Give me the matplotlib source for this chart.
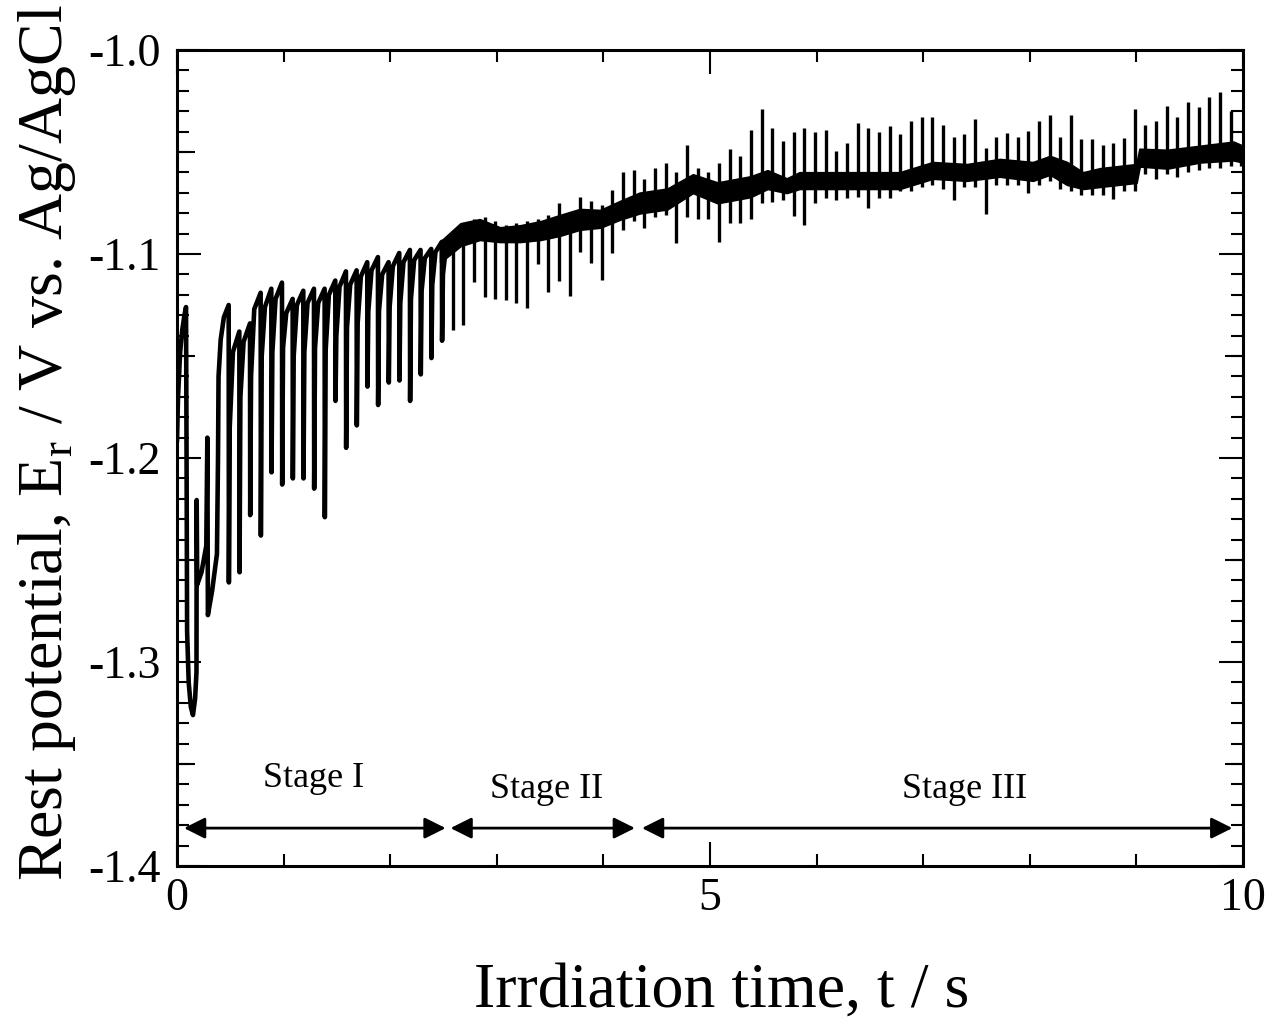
import numpy as np
import matplotlib
matplotlib.use("Agg")
import matplotlib.pyplot as plt

plt.rcParams['font.family'] = ['Liberation Serif', 'DejaVu Serif']
plt.rcParams['mathtext.fontset'] = 'custom'
plt.rcParams['mathtext.rm'] = 'Liberation Serif'
plt.rcParams['axes.unicode_minus'] = False

# ---------------- data ----------------
# laser pulse times (10 Hz pulses)
pulse_t = np.round(0.085 + 0.1 * np.arange(100), 3)

# initial transient before regular sawtooth (t < 0.485 s)
init_t = [0.000, 0.010, 0.030, 0.050, 0.070, 0.085, 0.090, 0.095, 0.110, 0.130,
          0.150, 0.170, 0.183, 0.185, 0.190, 0.230, 0.275, 0.285, 0.290, 0.330,
          0.375, 0.385, 0.390, 0.410, 0.440, 0.485]
init_E = [-1.192, -1.170, -1.148, -1.137, -1.130, -1.126, -1.200, -1.285, -1.310, -1.322,
          -1.326, -1.318, -1.305, -1.2206, -1.262, -1.256, -1.243, -1.190, -1.277, -1.265,
          -1.247, -1.200, -1.160, -1.142, -1.131, -1.125]

# Stage I sawtooth, pulses k = 4 ... 24
peak_I = [-1.125, -1.138, -1.134, -1.119, -1.117, -1.114, -1.122, -1.118, -1.117, -1.117,
          -1.113, -1.1085, -1.108, -1.104, -1.1015, -1.104, -1.0995, -1.098, -1.098, -1.0975,
          -1.094]
tip_I = [-1.261, -1.256, -1.228, -1.238, -1.207, -1.213, -1.210, -1.210, -1.215, -1.229,
         -1.172, -1.195, -1.184, -1.165, -1.174, -1.163, -1.162, -1.172, -1.159, -1.151,
         -1.1425]
dip_I = [-1.185, -1.170, -1.160, -1.150, -1.148, -1.146, -1.150, -1.148, -1.146, -1.147,
         -1.140, -1.136, -1.134, -1.128, -1.128, -1.126, -1.124, -1.122, -1.118, -1.115,
         -1.110]
knee_I = [-1.148, -1.143, -1.127, -1.126, -1.122, -1.129, -1.125, -1.124, -1.124, -1.120,
          -1.116, -1.115, -1.111, -1.108, -1.110, -1.106, -1.104, -1.103, -1.102, -1.099,
          -1.096]

# noisy band (Stages II and III)
band_t = [2.47, 2.66, 2.84, 3.03, 3.22, 3.41, 3.59, 3.78, 3.97, 4.16, 4.34, 4.60, 4.84,
          5.07, 5.38, 5.54, 5.72, 5.84, 6.15, 6.47, 6.78, 7.09, 7.41, 7.72, 8.03, 8.19,
          8.35, 8.50, 8.66, 9.00, 9.03, 9.29, 9.60, 9.91, 10.0]
band_top = [-1.094, -1.085, -1.083, -1.087, -1.086, -1.084, -1.081, -1.078, -1.0785, -1.074,
            -1.070, -1.068, -1.061, -1.065, -1.062, -1.059, -1.063, -1.060, -1.060, -1.060,
            -1.060, -1.055, -1.056, -1.0535, -1.055, -1.052, -1.055, -1.060, -1.058, -1.056,
            -1.0485, -1.049, -1.047, -1.045, -1.047]
band_bot = [-1.104, -1.096, -1.093, -1.094, -1.094, -1.093, -1.091, -1.088, -1.087, -1.083,
            -1.080, -1.078, -1.070, -1.075, -1.072, -1.068, -1.070, -1.068, -1.068, -1.068,
            -1.068, -1.063, -1.064, -1.062, -1.064, -1.061, -1.066, -1.068, -1.067, -1.065,
            -1.057, -1.058, -1.055, -1.054, -1.055]

# spike extents for pulses k = 25 ... 99
spike_lo = [-1.137, -1.135, -1.1137, -1.121, -1.122, -1.1225, -1.124, -1.1265, -1.105, -1.1186,
            -1.113, -1.1206, -1.099, -1.1046, -1.1127, -1.0997, -1.088, -1.084, -1.087, -1.082,
            -1.081, -1.0946, -1.082, -1.083, -1.083, -1.094, -1.085, -1.085, -1.083, -1.075,
            -1.0745, -1.0735, -1.0814, -1.086, -1.075, -1.0727, -1.0735, -1.0727, -1.072, -1.0775,
            -1.0725, -1.0725, -1.069, -1.069, -1.067, -1.066, -1.068, -1.0735, -1.067, -1.067,
            -1.0804, -1.066, -1.066, -1.066, -1.070, -1.066, -1.064, -1.068, -1.069, -1.071,
            -1.071, -1.071, -1.073, -1.069, -1.069, -1.061, -1.063, -1.061, -1.062, -1.060,
            -1.059, -1.058, -1.058, -1.057, -1.057]
spike_hi = [-1.090, -1.085, -1.083, -1.082, -1.084, -1.086, -1.085, -1.084, -1.083, -1.081,
            -1.075, -1.080, -1.072, -1.074, -1.076, -1.0686, -1.060, -1.059, -1.063, -1.058,
            -1.0555, -1.060, -1.0466, -1.058, -1.060, -1.0555, -1.0485, -1.052, -1.039, -1.029,
            -1.038, -1.0446, -1.040, -1.038, -1.040, -1.039, -1.0495, -1.0456, -1.036, -1.038,
            -1.040, -1.037, -1.041, -1.035, -1.033, -1.0327, -1.0368, -1.0428, -1.041, -1.034,
            -1.048, -1.0425, -1.0406, -1.0425, -1.0397, -1.035, -1.032, -1.0425, -1.032, -1.0437,
            -1.0437, -1.0466, -1.0454, -1.043, -1.029, -1.0368, -1.035, -1.0275, -1.033, -1.0255,
            -1.028, -1.023, -1.0206, -1.030, -1.050]

stage_labels = ["Stage I", "Stage II", "Stage III"]
stage_spans = [(0.066, 2.52), (2.566, 4.296), (4.362, 9.90)]
stage_label_xy = [(1.28, -1.3569), (3.47, -1.3627), (7.39, -1.3627)]
arrow_E = -1.3814

# ---------------- figure ----------------
fig = plt.figure(figsize=(12.75, 10.19), dpi=100)
pos = [0.1388, 0.1501, 0.8361, 0.8008]
ax = fig.add_axes(pos)

# build the Stage I trace
tI = pulse_t[4:25]
xs = list(init_t[:-1])
ys = list(init_E[:-1])
for i, tk in enumerate(tI):
    xs += [tk, tk + 0.002, tk + 0.010, tk + 0.040]
    ys += [peak_I[i], tip_I[i], dip_I[i], knee_I[i]]
ax.plot(xs, ys, color='k', lw=3.3, solid_joinstyle='round', solid_capstyle='round')

# band of Stages II and III
ax.fill_between(band_t, band_bot, band_top, color='k', lw=1.5, edgecolor='k')

# spikes
tS = pulse_t[25:]
ax.vlines(tS, spike_lo, spike_hi, color='k', lw=2.4)

# stage arrows
for lab, (a, b), (lx, ly) in zip(stage_labels, stage_spans, stage_label_xy):
    ax.annotate('', xy=(b, arrow_E), xytext=(a, arrow_E),
                arrowprops=dict(arrowstyle='<|-|>', color='k', lw=2.0,
                                mutation_scale=32, shrinkA=0, shrinkB=0))
    ax.text(lx, ly, lab, ha='center', va='center', fontsize=26)

ax.set_xlim(0, 10)
ax.set_ylim(-1.4, -1.0)
ax.set_xticks([0, 5, 10])
ax.set_xticks(np.arange(1, 10), minor=True)
yt = [-1.4, -1.3, -1.2, -1.1, -1.0]
ax.set_yticks(yt)
ax.set_yticklabels([f"{v:.1f}" for v in yt])
ax.set_yticks(np.round(np.arange(-1.4, -0.999, 0.01), 3), minor=True)
ax.tick_params(which='both', direction='in', top=True, right=True, width=1.5)
ax.tick_params(which='major', length=17, labelsize=33)
ax.tick_params(which='minor', length=8.5)
ax.tick_params(axis='y', which='major', pad=12)
ax.tick_params(axis='x', which='major', pad=8)
for s in ax.spines.values():
    s.set_linewidth(2.2)

# medium ticks at 0.05 V (separate overlay axes, not shared)
ax2 = fig.add_axes(pos)
ax2.set_ylim(-1.4, -1.0)
ax2.patch.set_visible(False)
for s in ax2.spines.values():
    s.set_visible(False)
ax2.set_xticks([])
ax2.set_yticks([-1.35, -1.25, -1.15, -1.05])
ax2.tick_params(axis='y', direction='in', left=True, right=True, labelleft=False,
                labelright=False, length=13, width=1.5)

fig.text(0.5663, 0.0118, "Irrdiation time, t / s", ha='center', va='baseline', fontsize=46)
fig.text(0.0365, 0.566, r"Rest potential, E$_{\rm r}$ / V vs. Ag/AgCl", rotation=90,
         ha='center', va='center', fontsize=46)

fig.savefig("out.png", dpi=100)
